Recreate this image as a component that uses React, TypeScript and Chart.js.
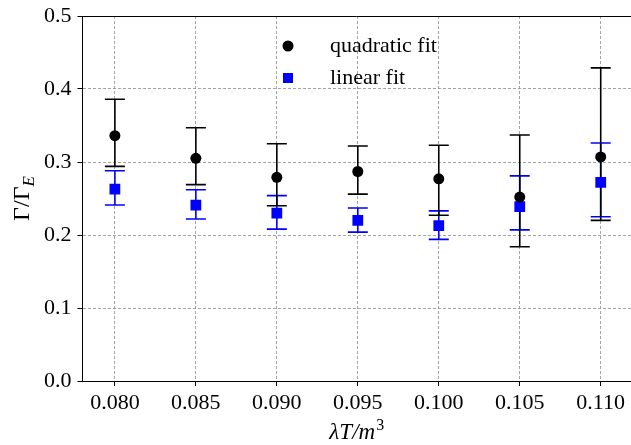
import React, { useEffect, useRef } from "react";
import { Chart, registerables } from "chart.js";

Chart.register(...registerables);

const xValues = [0.08, 0.085, 0.09, 0.095, 0.1, 0.105, 0.11];
const quadValues = [0.336, 0.305, 0.279, 0.287, 0.277, 0.252, 0.307];
const quadUpper = [0.386, 0.347, 0.325, 0.322, 0.323, 0.337, 0.429];
const quadLower = [0.294, 0.269, 0.24, 0.256, 0.227, 0.184, 0.22];
const linValues = [0.263, 0.241, 0.23, 0.22, 0.213, 0.239, 0.272];
const linUpper = [0.288, 0.262, 0.254, 0.237, 0.233, 0.281, 0.326];
const linLower = [0.241, 0.222, 0.208, 0.204, 0.194, 0.207, 0.225];
const xTicks = [0.08, 0.085, 0.09, 0.095, 0.1, 0.105, 0.11];
const yTicks = [0, 0.1, 0.2, 0.3, 0.4, 0.5];
const legendLabels = ["quadratic fit", "linear fit"];

const SERIF = '"Liberation Serif", "DejaVu Serif", serif';
const BLUE = "#0000ff";
const BLACK = "#000000";
const CANVAS_W = 631;
const CANVAS_H = 445;

const errorBarPlugin = {
  id: "errorBars",
  afterLayout(chart: any) {
    const area = chart.chartArea;
    const xs = chart.scales.x;
    area.right = CANVAS_W;
    area.width = area.right - area.left;
    xs.right = CANVAS_W;
    xs.width = xs.right - xs.left;
    xs.configure();
  },
  beforeDatasetsDraw(chart: any) {
    const ctx = chart.ctx;
    const xs = chart.scales.x;
    const ys = chart.scales.y;
    const groups = [
      { lo: linLower, hi: linUpper, color: BLUE },
      { lo: quadLower, hi: quadUpper, color: BLACK },
    ];
    ctx.save();
    for (const g of groups) {
      ctx.strokeStyle = g.color;
      ctx.lineWidth = 1.6;
      for (let i = 0; i < xValues.length; i++) {
        const px = xs.getPixelForValue(xValues[i]);
        const pl = ys.getPixelForValue(g.lo[i]);
        const ph = ys.getPixelForValue(g.hi[i]);
        ctx.beginPath();
        ctx.moveTo(px, pl);
        ctx.lineTo(px, ph);
        ctx.moveTo(px - 10, pl);
        ctx.lineTo(px + 10, pl);
        ctx.moveTo(px - 10, ph);
        ctx.lineTo(px + 10, ph);
        ctx.stroke();
      }
    }
    ctx.restore();
  },
  afterDraw(chart: any) {
    const ctx = chart.ctx;
    const area = chart.chartArea;
    ctx.save();
    // top spine
    ctx.strokeStyle = "#000";
    ctx.lineWidth = 1;
    ctx.beginPath();
    ctx.moveTo(area.left, Math.round(area.top) + 0.5);
    ctx.lineTo(area.right, Math.round(area.top) + 0.5);
    ctx.stroke();

    // legend
    ctx.fillStyle = BLACK;
    ctx.beginPath();
    ctx.arc(288, 46, 5.5, 0, Math.PI * 2);
    ctx.fill();
    ctx.fillStyle = BLUE;
    ctx.fillRect(283, 73, 10, 10);
    ctx.fillStyle = "#000";
    ctx.font = `22px ${SERIF}`;
    ctx.textAlign = "left";
    ctx.textBaseline = "middle";
    ctx.fillText(legendLabels[0], 330, 46);
    ctx.fillText(legendLabels[1], 330, 78);

    // x title: λT/m^3
    ctx.textBaseline = "alphabetic";
    const mainFont = `italic 23px ${SERIF}`;
    const supFont = `16px ${SERIF}`;
    ctx.font = mainFont;
    const w1 = ctx.measureText("λT/m").width;
    ctx.font = supFont;
    const w2 = ctx.measureText("3").width;
    const cx = (area.left + area.right) / 2;
    let sx = cx - (w1 + w2 + 1) / 2;
    ctx.font = mainFont;
    ctx.fillText("λT/m", sx, 439);
    ctx.font = supFont;
    ctx.fillText("3", sx + w1 + 1, 430);

    // y title: Γ/Γ_E rotated
    ctx.save();
    ctx.translate(29, (area.top + area.bottom) / 2);
    ctx.rotate(-Math.PI / 2);
    const yMain = `24px ${SERIF}`;
    const ySub = `italic 17px ${SERIF}`;
    ctx.font = yMain;
    const m1 = ctx.measureText("Γ/Γ").width;
    ctx.font = ySub;
    const m2 = ctx.measureText("E").width;
    const start = -(m1 + m2) / 2;
    ctx.font = yMain;
    ctx.fillText("Γ/Γ", start, 0);
    ctx.font = ySub;
    ctx.fillText("E", start + m1, 5);
    ctx.restore();

    ctx.restore();
  },
};

function zeroPad(scale: any) {
  scale.paddingTop = 0;
  scale.paddingBottom = 0;
  scale.paddingLeft = 0;
  scale.paddingRight = 0;
}

export default function App() {
  const ref = useRef<HTMLCanvasElement | null>(null);

  useEffect(() => {
    if (!ref.current) return;
    const chart = new Chart(ref.current, {
      type: "scatter",
      data: {
        datasets: [
          {
            label: legendLabels[0],
            data: xValues.map((x, i) => ({ x, y: quadValues[i] })),
            pointStyle: "circle",
            pointRadius: 5.5,
            pointBackgroundColor: BLACK,
            pointBorderColor: BLACK,
            pointBorderWidth: 0,
          },
          {
            label: legendLabels[1],
            data: xValues.map((x, i) => ({ x, y: linValues[i] })),
            pointStyle: "rect",
            pointRadius: 7.6,
            pointBackgroundColor: BLUE,
            pointBorderColor: BLUE,
            pointBorderWidth: 0,
          },
        ],
      },
      options: {
        responsive: false,
        animation: false,
        devicePixelRatio: 1,
        layout: { padding: { top: 16, left: 0, right: 0, bottom: 0 } },
        plugins: { legend: { display: false }, tooltip: { enabled: false } },
        scales: {
          x: {
            type: "linear",
            min: 0.078,
            max: 0.11187,
            afterFit(scale: any) {
              scale.height = 64;
              zeroPad(scale);
            },
            afterBuildTicks(scale: any) {
              scale.ticks = xTicks.map((v) => ({ value: v }));
            },
            ticks: {
              font: { family: SERIF, size: 22 },
              color: "#000",
              padding: 4,
              maxRotation: 0,
              autoSkip: false,
              callback: (v: any) => Number(v).toFixed(3),
            },
            grid: {
              color: "#8c8c8c",
              lineWidth: 0.8,
              tickLength: 5,
              tickColor: "#000",
              tickWidth: 1,
              tickBorderDash: [],
            },
            border: { display: true, color: "#000", width: 1, dash: [3, 2] },
          },
          y: {
            type: "linear",
            min: 0,
            max: 0.5,
            afterFit(scale: any) {
              scale.width = 82.5;
              zeroPad(scale);
            },
            afterBuildTicks(scale: any) {
              scale.ticks = yTicks.map((v) => ({ value: v }));
            },
            ticks: {
              font: { family: SERIF, size: 22 },
              color: "#000",
              padding: 6,
              autoSkip: false,
              callback: (v: any) => Number(v).toFixed(1),
            },
            grid: {
              color: "#8c8c8c",
              lineWidth: 0.8,
              tickLength: 5,
              tickColor: "#000",
              tickWidth: 1,
              tickBorderDash: [],
            },
            border: { display: true, color: "#000", width: 1, dash: [3, 2] },
          },
        },
      },
      plugins: [errorBarPlugin],
    });
    return () => chart.destroy();
  }, []);

  return (
    <div style={{ position: "fixed", left: 0, top: 0, width: CANVAS_W, height: CANVAS_H, background: "#fff" }}>
      <canvas ref={ref} width={CANVAS_W} height={CANVAS_H} style={{ display: "block" }} />
    </div>
  );
}
